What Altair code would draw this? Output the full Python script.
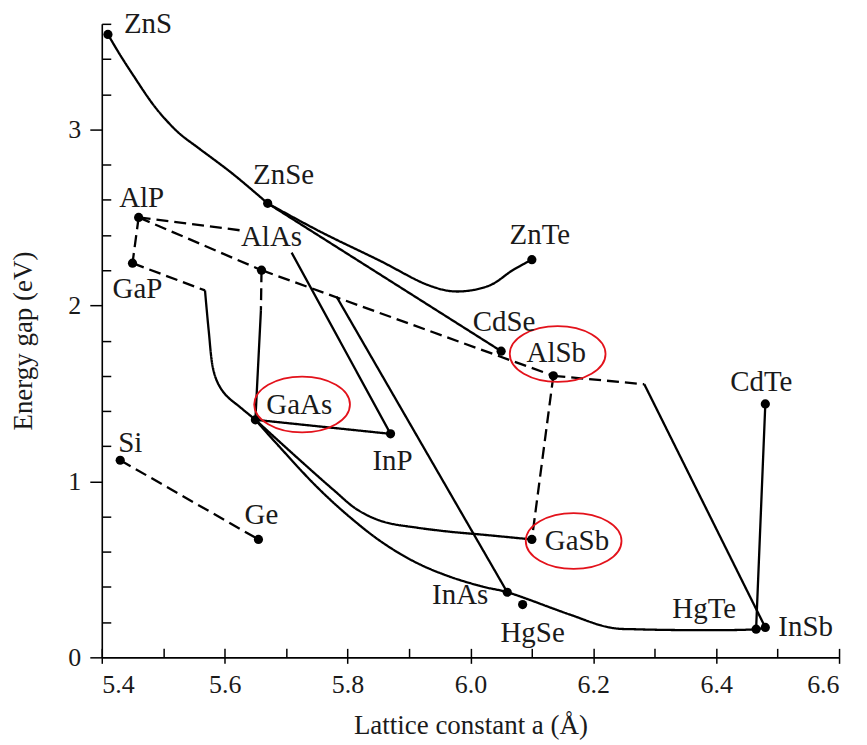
import altair as alt
import pandas as pd

# ---------------- data ----------------
compounds = ["ZnS", "ZnSe", "ZnTe", "AlP", "GaP", "AlAs", "CdSe", "AlSb", "CdTe",
             "GaAs", "InP", "Si", "Ge", "GaSb", "InAs", "HgSe", "HgTe", "InSb"]
lattice_a = [5.41, 5.67, 6.10, 5.46, 5.45, 5.66, 6.05, 6.135, 6.48,
             5.65, 5.87, 5.43, 5.655, 6.10, 6.06, 6.085, 6.465, 6.48]
energy_gap = [3.54, 2.58, 2.26, 2.50, 2.24, 2.20, 1.74, 1.60, 1.44,
              1.35, 1.27, 1.12, 0.67, 0.67, 0.37, 0.30, 0.16, 0.17]

# alloy curves (x, y) -- style: solid / dashed ; curve: linear / smooth
zns_znse_x = [5.41, 5.429, 5.450, 5.483, 5.506, 5.527, 5.559, 5.613, 5.67]
zns_znse_y = [3.54, 3.428, 3.314, 3.144, 3.048, 2.975, 2.890, 2.748, 2.58]
znse_znte_x = [5.67, 5.755, 5.852, 5.933, 5.977, 6.031, 6.068, 6.10]
znse_znte_y = [2.58, 2.42, 2.255, 2.113, 2.079, 2.113, 2.198, 2.26]
znse_cdse_x = [5.67, 6.05]
znse_cdse_y = [2.58, 1.74]
alp_gap_x = [5.46, 5.45]
alp_gap_y = [2.50, 2.24]
alp_alas_x = [5.46, 5.66]
alp_alas_y = [2.50, 2.20]
alas_alsb_x = [5.66, 6.135]
alas_alsb_y = [2.20, 1.60]
alsb_insb_ind_x = [6.135, 6.283]
alsb_insb_ind_y = [1.60, 1.552]
alsb_insb_dir_x = [6.283, 6.48]
alsb_insb_dir_y = [1.552, 0.17]
alsb_gasb_x = [6.135, 6.10]
alsb_gasb_y = [1.60, 0.67]
alp_inp_ind_x = [5.46, 5.629]
alp_inp_ind_y = [2.50, 2.425]
alp_inp_dir_x = [5.709, 5.87]
alp_inp_dir_y = [2.30, 1.27]
alas_inas_x = [5.782, 6.06]
alas_inas_y = [2.05, 0.37]
alas_gaas_ind_x = [5.66, 5.659]
alas_gaas_ind_y = [2.20, 1.97]
alas_gaas_dir_x = [5.659, 5.65]
alas_gaas_dir_y = [1.97, 1.35]
gap_gaas_ind_x = [5.45, 5.568]
gap_gaas_ind_y = [2.24, 2.085]
gap_gaas_dir_x = [5.568, 5.574, 5.581, 5.589, 5.602, 5.625, 5.65]
gap_gaas_dir_y = [2.085, 1.858, 1.643, 1.558, 1.490, 1.422, 1.35]
gaas_inp_x = [5.65, 5.87]
gaas_inp_y = [1.35, 1.27]
gaas_gasb_x = [5.65, 5.722, 5.777, 5.816, 5.858, 5.913, 5.966, 6.02, 6.10]
gaas_gasb_y = [1.35, 1.122, 0.952, 0.839, 0.771, 0.737, 0.714, 0.697, 0.67]
gaas_insb_x = [5.65, 5.694, 5.75, 5.803, 5.857, 5.912, 5.966, 6.02, 6.06,
               6.161, 6.226, 6.275, 6.465, 6.48]
gaas_insb_y = [1.35, 1.178, 0.969, 0.799, 0.652, 0.538, 0.459, 0.402, 0.37,
               0.244, 0.170, 0.159, 0.16, 0.17]
si_ge_x = [5.43, 5.655]
si_ge_y = [1.12, 0.67]
cdte_hgte_x = [6.48, 6.465]
cdte_hgte_y = [1.44, 0.16]

paths = [
    ("ZnS-ZnSe", "solid", "smooth", zns_znse_x, zns_znse_y),
    ("ZnSe-ZnTe", "solid", "smooth", znse_znte_x, znse_znte_y),
    ("ZnSe-CdSe", "solid", "linear", znse_cdse_x, znse_cdse_y),
    ("AlP-GaP", "dashed", "linear", alp_gap_x, alp_gap_y),
    ("AlP-AlAs", "dashed", "linear", alp_alas_x, alp_alas_y),
    ("AlAs-AlSb", "dashed", "linear", alas_alsb_x, alas_alsb_y),
    ("AlSb-InSb a", "dashed", "linear", alsb_insb_ind_x, alsb_insb_ind_y),
    ("AlSb-InSb b", "solid", "linear", alsb_insb_dir_x, alsb_insb_dir_y),
    ("AlSb-GaSb", "dashed", "linear", alsb_gasb_x, alsb_gasb_y),
    ("AlP-InP a", "dashed", "linear", alp_inp_ind_x, alp_inp_ind_y),
    ("AlP-InP b", "solid", "linear", alp_inp_dir_x, alp_inp_dir_y),
    ("AlAs-InAs", "solid", "linear", alas_inas_x, alas_inas_y),
    ("AlAs-GaAs a", "dashed", "linear", alas_gaas_ind_x, alas_gaas_ind_y),
    ("AlAs-GaAs b", "solid", "linear", alas_gaas_dir_x, alas_gaas_dir_y),
    ("GaP-GaAs a", "dashed", "linear", gap_gaas_ind_x, gap_gaas_ind_y),
    ("GaP-GaAs b", "solid", "smooth", gap_gaas_dir_x, gap_gaas_dir_y),
    ("GaAs-InP", "solid", "linear", gaas_inp_x, gaas_inp_y),
    ("GaAs-GaSb", "solid", "smooth", gaas_gasb_x, gaas_gasb_y),
    ("GaAs-InSb", "solid", "smooth", gaas_insb_x, gaas_insb_y),
    ("Si-Ge", "dashed", "linear", si_ge_x, si_ge_y),
    ("CdTe-HgTe", "solid", "linear", cdte_hgte_x, cdte_hgte_y),
]

# highlighted labels (red ellipses)
highlight_names = ["GaAs", "AlSb", "GaSb"]
highlight_x = [5.726, 6.142, 6.168]
highlight_y = [1.437, 1.724, 0.661]

x_major = [5.4, 5.6, 5.8, 6.0, 6.2, 6.4, 6.6]
x_minor = [5.4, 5.5, 5.6, 5.7, 5.8, 5.9, 6.0, 6.1, 6.2, 6.3, 6.4, 6.5, 6.6]
y_major = [0, 1, 2, 3]
y_minor = [0.2, 0.4, 0.6, 0.8, 1.2, 1.4, 1.6, 1.8, 2.2, 2.4, 2.6, 2.8, 3.2, 3.4, 3.6]

# ---------------- styling ----------------
W, H = 739, 635
FONT = "Liberation Serif"
LABEL_STYLE = {  # align, dx, dy (pixels)
    "ZnS": ("left", 16, -10), "ZnSe": ("center", 16, -28), "ZnTe": ("center", 8, -25),
    "AlP": ("center", 3, -19), "GaP": ("center", 5, 26), "AlAs": ("center", 10, -33),
    "CdSe": ("center", 3, -29), "AlSb": ("center", 3, -23), "CdTe": ("center", -4, -22),
    "GaAs": ("left", 11, -15), "InP": ("center", 2, 27), "Si": ("center", 10, -17),
    "Ge": ("center", 3, -24), "GaSb": ("left", 13, 2), "InAs": ("right", -19, 3),
    "HgSe": ("center", 10, 29), "HgTe": ("right", -20, -20), "InSb": ("left", 13, 0),
}

pts = pd.DataFrame({"name": compounds, "a": lattice_a, "eg": energy_gap})
rows = []
for name, style, curve, xs, ys in paths:
    for i, (xv, yv) in enumerate(zip(xs, ys)):
        rows.append({"path": name, "style": style, "curve": curve, "i": i, "a": xv, "eg": yv})
lines = pd.DataFrame(rows)
hl = pd.DataFrame({"name": highlight_names, "a": highlight_x, "eg": highlight_y})

xs_scale = alt.Scale(domain=[5.4, 6.6], nice=False, zero=False)
ys_scale = alt.Scale(domain=[0, 3.6], nice=False, zero=False)


def X(axis=None):
    return alt.X("a:Q", scale=xs_scale, axis=axis)


def Y(axis=None):
    return alt.Y("eg:Q", scale=ys_scale, axis=axis)


dash = alt.StrokeDash("style:N", scale=alt.Scale(domain=["solid", "dashed"], range=[[1, 0], [12, 6]]),
                      legend=None)

lin = alt.Chart(lines).transform_filter(alt.datum.curve == "linear").mark_line(
    interpolate="linear", color="black", strokeWidth=2.3
).encode(x=X(), y=Y(), detail="path:N", order="i:Q", strokeDash=dash)

smooth = alt.Chart(lines).transform_filter(alt.datum.curve == "smooth").mark_line(
    interpolate="catmull-rom", color="black", strokeWidth=2.3
).encode(x=X(), y=Y(), detail="path:N", order="i:Q", strokeDash=dash)

points = alt.Chart(pts).mark_circle(size=85, color="black", opacity=1).encode(
    x=X(alt.Axis(values=x_major, format=".1f", tickSize=6, labelFontSize=26, labelPadding=8,
                 title="Lattice constant a (Å)", titleFontSize=27, titlePadding=15)),
    y=Y(alt.Axis(values=y_major, format="d", tickSize=12, labelFontSize=26, labelPadding=9,
                 title="Energy gap (eV)", titleFontSize=27, titlePadding=30)),
)

ELLIPSE = "M -1 0 A 1 0.583 0 1 1 1 0 A 1 0.583 0 1 1 -1 0 Z"
ellipses = alt.Chart(hl).mark_point(
    shape=ELLIPSE, size=9216, filled=False, color="#e3121b", strokeWidth=1.8, opacity=1
).encode(
    x=X(alt.Axis(orient="top", offset=-H, values=x_minor, labels=False, domain=False,
                 tickSize=9, title=None)),
    y=Y(alt.Axis(orient="right", offset=-W, values=y_minor, labels=False, domain=False,
                 tickSize=9, title=None)),
)

texts = []
for c in compounds:
    al, dx, dy = LABEL_STYLE[c]
    texts.append(
        alt.Chart(pts).transform_filter(alt.datum.name == c).mark_text(
            align=al, baseline="middle", dx=dx, dy=dy, font=FONT, fontSize=29, color="#1a1a1a"
        ).encode(x=X(), y=Y(), text="name:N")
    )

chart = alt.layer(lin, smooth, points, ellipses, *texts).resolve_axis(
    x="independent", y="independent"
).properties(
    width=W, height=H,
    autosize=alt.AutoSizeParams(type="none"),
    padding={"left": 94, "top": 15, "right": 20, "bottom": 90},
).configure_view(stroke=None).configure_axis(
    grid=False, domainColor="black", domainWidth=1.6, tickColor="black", tickWidth=1.5,
    labelFont=FONT, titleFont=FONT, labelColor="#1a1a1a", titleColor="#1a1a1a",
    titleFontWeight="normal",
)

chart.save("out.html", embed_options={"renderer": "svg", "actions": False})
